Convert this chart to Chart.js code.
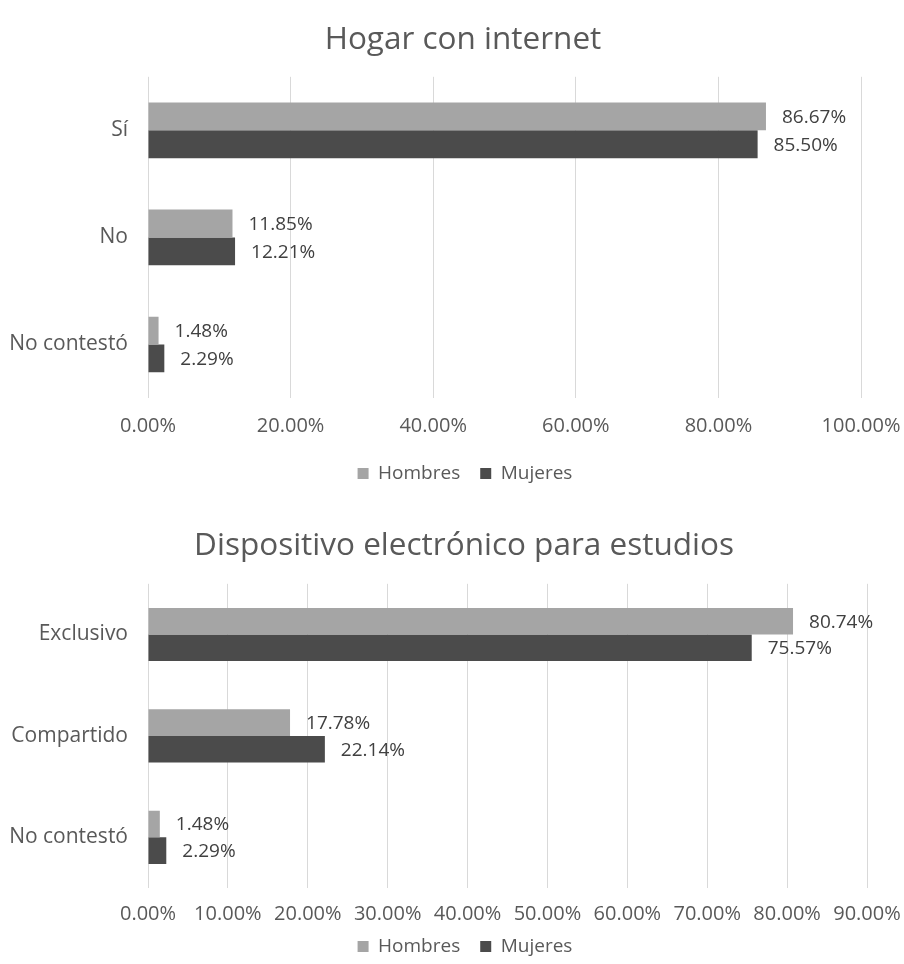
<!DOCTYPE html>
<html>
<head>
<meta charset="utf-8">
<script src="https://cdn.jsdelivr.net/npm/chart.js@4.4.1/dist/chart.umd.min.js"></script>
<style>
  html, body { margin: 0; padding: 0; background: #ffffff; width: 904px; height: 964px; overflow: hidden; }
  .wrap { position: absolute; left: 0; width: 904px; }
  #w1 { top: 0; height: 499px; }
  #w2 { top: 492px; height: 491px; }
</style>
</head>
<body>
<div class="wrap" id="w1"><canvas id="c1"></canvas></div>
<div class="wrap" id="w2"><canvas id="c2"></canvas></div>
<script>
// Hogar con internet
const internetCategories = ['Sí', 'No', 'No contestó'];
const internetHombres = [86.67, 11.85, 1.48];
const internetMujeres = [85.50, 12.21, 2.29];
const internetTicks = [0, 20, 40, 60, 80, 100];

// Dispositivo electrónico para estudios
const deviceCategories = ['Exclusivo', 'Compartido', 'No contestó'];
const deviceHombres = [80.74, 17.78, 1.48];
const deviceMujeres = [75.57, 22.14, 2.29];
const deviceTicks = [0, 10, 20, 30, 40, 50, 60, 70, 80, 90];

const seriesNames = ['Hombres', 'Mujeres'];

const FONT = "'Open Sans', 'DejaVu Sans', sans-serif";
const TEXT = '#595959';
const GRID = '#d9d9d9';
const COLOR_H = '#a5a5a5';
const COLOR_M = '#4b4b4b';

// Writes each bar's value just past its end
const valueLabels = {
  id: 'valueLabels',
  afterDatasetsDraw(chart) {
    const ctx = chart.ctx;
    ctx.save();
    ctx.font = '19px ' + FONT;
    ctx.fillStyle = '#404040';
    ctx.textAlign = 'left';
    ctx.textBaseline = 'middle';
    chart.data.datasets.forEach((ds, di) => {
      const meta = chart.getDatasetMeta(di);
      meta.data.forEach((bar, i) => {
        ctx.fillText(ds.data[i].toFixed(2) + '%', bar.x + 16, bar.y + 1);
      });
    });
    ctx.restore();
  }
};

// Centres title and legend across the whole canvas rather than the plot column
const blockShift = {
  id: 'blockShift',
  afterLayout(chart, args, opts) {
    const t = chart.titleBlock;
    if (t) { t.left = opts.titleLeft; t.right = chart.width; }
    const l = chart.legend;
    if (l) {
      l.left = opts.legendLeft;
      l.right = chart.width;
      l.top += opts.legendDy;
      l.bottom += opts.legendDy;
    }
  }
};

function makeChart(id, title, cats, hombres, mujeres, ticks, cfg) {
  return new Chart(document.getElementById(id), {
    type: 'bar',
    data: {
      labels: cats,
      datasets: [
        { label: seriesNames[0], data: hombres, backgroundColor: COLOR_H },
        { label: seriesNames[1], data: mujeres, backgroundColor: COLOR_M }
      ]
    },
    options: {
      indexAxis: 'y',
      responsive: true,
      maintainAspectRatio: false,
      animation: false,
      devicePixelRatio: 1,
      datasets: { bar: { categoryPercentage: cfg.catPct, barPercentage: 1.0 } },
      layout: { padding: { left: 0, right: cfg.padRight, top: 0, bottom: cfg.padBottom } },
      plugins: {
        title: {
          display: true,
          text: title,
          color: TEXT,
          font: { family: FONT, size: 31.5, weight: 'normal' },
          padding: { top: cfg.titleTop, bottom: cfg.titleBottom }
        },
        legend: {
          position: 'bottom',
          labels: {
            color: TEXT,
            font: { family: FONT, size: 19 },
            boxWidth: 11,
            boxHeight: 11,
            padding: 20
          }
        },
        blockShift: { titleLeft: cfg.titleLeft, legendLeft: cfg.legendLeft, legendDy: cfg.legendDy },
        tooltip: { enabled: false }
      },
      scales: {
        x: {
          min: 0,
          max: ticks[ticks.length - 1],
          afterBuildTicks(scale) { scale.ticks = ticks.map(v => ({ value: v })); },
          afterFit(scale) {
            scale.height = cfg.xAxisHeight;
            scale.paddingLeft = 0;
            scale.paddingRight = 0;
          },
          ticks: {
            color: TEXT,
            font: { family: FONT, size: 20 },
            padding: cfg.xTickPad,
            maxRotation: 0,
            autoSkip: false,
            callback: v => Number(v).toFixed(2) + '%'
          },
          grid: { color: GRID, lineWidth: 1, drawTicks: false },
          border: { display: false }
        },
        y: {
          afterFit(scale) { scale.width = 148; },
          ticks: {
            color: TEXT,
            font: { family: FONT, size: 21 },
            padding: 20
          },
          grid: { display: false, drawTicks: false },
          border: { display: false }
        }
      }
    },
    plugins: [valueLabels, blockShift]
  });
}

makeChart('c1', 'Hogar con internet', internetCategories, internetHombres, internetMujeres, internetTicks,
  { catPct: 0.52, padRight: 43, padBottom: 4, titleTop: 21, titleBottom: 18, xAxisHeight: 48, xTickPad: 16,
    titleLeft: 22, legendLeft: 26, legendDy: -2 });

makeChart('c2', 'Dispositivo electrónico para estudios', deviceCategories, deviceHombres, deviceMujeres, deviceTicks,
  { catPct: 0.525, padRight: 37, padBottom: 4, titleTop: 35, titleBottom: 19, xAxisHeight: 42, xTickPad: 14,
    titleLeft: 24, legendLeft: 26, legendDy: -13 });
</script>
</body>
</html>
